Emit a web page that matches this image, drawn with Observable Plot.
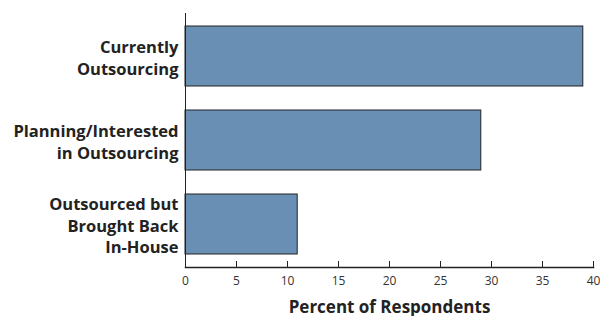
<!DOCTYPE html>
<html><head><meta charset="utf-8">
<script src="https://cdn.jsdelivr.net/npm/d3@7"></script>
<script src="https://cdn.jsdelivr.net/npm/@observablehq/plot@0.6"></script>
<style>
body{margin:0;background:#fff;}
svg{font-family:"Open Sans", sans-serif;}
</style>
</head><body><div id="chart"></div>
<script>
const categories = ["Currently\nOutsourcing", "Planning/Interested\nin Outsourcing", "Outsourced but\nBrought Back\nIn-House"];
const values = [39, 29, 11];
const xTicks = [0, 5, 10, 15, 20, 25, 30, 35, 40];
const xTitle = "Percent of Respondents";

const data = categories.map((c, i) => ({category: c, value: values[i]}));

const chart = Plot.plot({
  width: 600,
  height: 316,
  marginTop: 13,
  marginBottom: 49,
  marginLeft: 185,
  marginRight: 7,
  style: {fontFamily: "'Open Sans', sans-serif", background: "#fff"},
  x: {domain: [0, 40], ticks: xTicks},
  y: {domain: categories, paddingInner: 0.28, paddingOuter: 0.14},
  marks: [
    Plot.barX(data, {x: "value", y: "category", fill: "#6a8fb4", stroke: "#222", strokeWidth: 1}),
    Plot.frame({anchor: "left", stroke: "#222"}),
    Plot.frame({anchor: "bottom", stroke: "#222", strokeWidth: 1.5}),
    Plot.axisX({ticks: xTicks, tickSize: 6, dy: -6, text: null, label: null, stroke: "#222"}),
    Plot.axisX({ticks: xTicks, tickSize: 0, tickPadding: 9, fontSize: 12, fill: "#333", label: null}),
    Plot.axisY({tickSize: 0, tickPadding: 7, fontSize: 16.5, fontWeight: "bold", fill: "#222", lineHeight: 1.33, label: null}),
    Plot.text([xTitle], {frameAnchor: "bottom", dy: 45, fontSize: 17, fontWeight: "bold", fill: "#222"})
  ]
});
document.getElementById("chart").appendChild(chart);
</script>
</body></html>
